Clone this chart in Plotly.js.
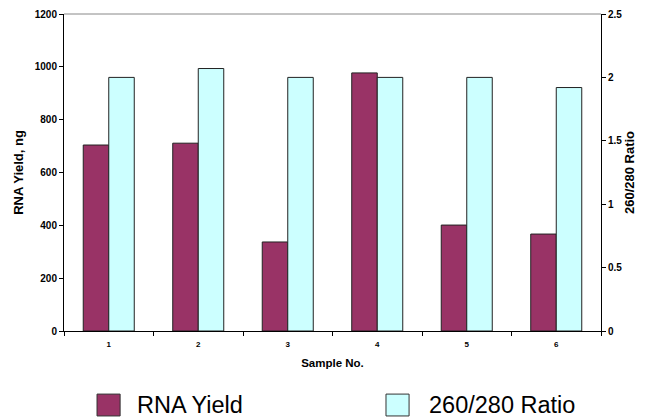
<!DOCTYPE html>
<html>
<head>
<meta charset="utf-8">
<script src="https://cdn.plot.ly/plotly-3.0.1.min.js"></script>
<style>html,body{margin:0;padding:0;background:#fff;}#chart{width:648px;height:420px;}</style>
</head>
<body>
<div id="chart"></div>
<script>
const samples = ['1', '2', '3', '4', '5', '6'];
const rnaYield = [704, 711, 337, 977, 401, 367];
const ratio260280 = [2.0, 2.07, 2.0, 2.0, 2.0, 1.92];
const seriesNames = ['RNA Yield', '260/280 Ratio'];
const seriesColors = ['#993366', '#CCFFFF'];

const font = {family: 'Liberation Sans, Arial, sans-serif', color: '#000'};

const traces = [
  {
    type: 'bar', x: samples, y: rnaYield, name: seriesNames[0],
    marker: {color: seriesColors[0], line: {color: '#222', width: 1}},
    width: 0.285, offset: -0.285, yaxis: 'y', showlegend: false
  },
  {
    type: 'bar', x: samples, y: ratio260280, name: seriesNames[1],
    marker: {color: seriesColors[1], line: {color: '#222', width: 1}},
    width: 0.285, offset: 0, yaxis: 'y2', showlegend: false
  }
];

const legendShapes = [];
const legendAnn = [];
const legendSwatchX = [0.0615, 0.5996];
const legendTextX = [0.1322, 0.676];
for (let i = 0; i < seriesNames.length; i++) {
  legendShapes.push({
    type: 'rect', xref: 'paper', yref: 'paper',
    x0: legendSwatchX[i], x1: legendSwatchX[i] + 0.043,
    y0: -0.268, y1: -0.199,
    fillcolor: seriesColors[i], line: {color: '#333', width: 1}
  });
  legendAnn.push({
    xref: 'paper', yref: 'paper', x: legendTextX[i], y: -0.2334,
    xanchor: 'left', yanchor: 'middle', showarrow: false,
    text: seriesNames[i], font: Object.assign({}, font, {size: 23.5})
  });
}

const layout = {
  width: 648, height: 420,
  margin: {l: 64, r: 47, t: 14, b: 89},
  paper_bgcolor: '#fff', plot_bgcolor: '#fff',
  font: font,
  barmode: 'overlay',
  showlegend: false,
  xaxis: {
    type: 'category', tickson: 'boundaries',
    ticks: 'outside', ticklen: 4, tickcolor: '#000',
    ticklabelstandoff: 5,
    showline: true, linecolor: '#000', linewidth: 1,
    showgrid: false, zeroline: false,
    tickfont: {family: font.family, size: 8, weight: 'bold'},
    title: {text: 'Sample No.', font: {family: font.family, size: 11.5, weight: 'bold'}, standoff: 11}
  },
  yaxis: {
    range: [0, 1200], dtick: 200,
    ticks: 'outside', ticklen: 4, tickcolor: '#000',
    showline: true, linecolor: '#000', linewidth: 1,
    showgrid: false, zeroline: false,
    tickfont: {family: font.family, size: 10, weight: 'bold'},
    title: {text: 'RNA Yield, ng', font: {family: font.family, size: 13, weight: 'bold'}, standoff: 8}
  },
  yaxis2: {
    range: [0, 2.5], dtick: 0.5, overlaying: 'y', side: 'right',
    ticks: 'outside', ticklen: 4, tickcolor: '#000',
    showline: true, linecolor: '#000', linewidth: 1,
    showgrid: false, zeroline: false,
    tickfont: {family: font.family, size: 10, weight: 'bold'},
    title: {text: '260/280 Ratio', font: {family: font.family, size: 13, weight: 'bold'}, standoff: 2}
  },
  shapes: [
    {type: 'line', xref: 'paper', yref: 'paper', x0: 0, x1: 1, y0: 1, y1: 1, line: {color: '#888', width: 1}}
  ].concat(legendShapes),
  annotations: legendAnn
};

Plotly.newPlot('chart', traces, layout, {displayModeBar: false, staticPlot: true});
</script>
</body>
</html>
